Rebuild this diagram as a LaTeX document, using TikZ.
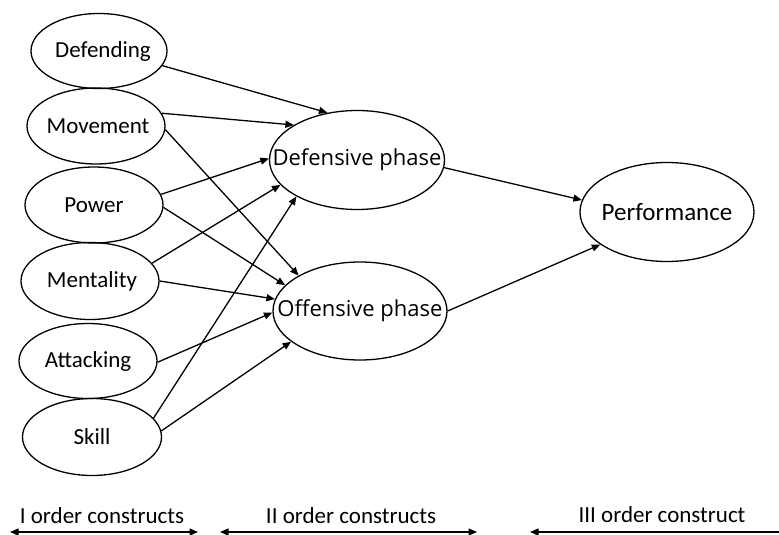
\documentclass[tikz,border=0pt]{standalone}
\usepackage{fontspec}
\setmainfont{Carlito}
\newfontfamily\phasefont{Open Sans}
\usetikzlibrary{shapes.geometric,arrows.meta}
\tikzset{
  ell/.style={draw, ellipse, inner sep=0pt, line width=1.3pt},
  small/.style={ell, minimum width=138pt, minimum height=76pt, font=\fontsize{23}{26}\selectfont},
  big/.style={ell, minimum width=175pt, minimum height=99pt},
  conn/.style={line width=1.3pt, -{Triangle[length=8.5pt,width=7pt]}},
  both/.style={line width=1.3pt, {Triangle[length=8.5pt,width=7pt]}-{Triangle[length=8.5pt,width=7pt]}},
  lbl/.style={anchor=base, inner sep=0pt, font=\fontsize{23}{26}\selectfont}
}
\newcommand{\zw}[1]{\makebox[0pt][c]{#1}}
\begin{document}
\begin{tikzpicture}[x=1pt,y=-1pt]
\useasboundingbox (0,0) rectangle (779,535);
% first order
\node[small, minimum width=136pt, minimum height=75pt] (def) at (99,51) {\zw{\hspace{8pt}Defending}};
\node[small] (mov) at (96,126) {\zw{\hspace{4pt}Movement}};
\node[small, minimum height=76pt] (pow) at (94,205) {\zw{Power}};
\node[small, minimum height=77pt] (mnt) at (90,281) {\zw{\hspace{4pt}Mentality}};
\node[small, minimum height=75pt] (att) at (88,361) {\zw{Attacking}};
\node[small, minimum width=139pt, minimum height=77pt] (skl) at (92,437) {\zw{Skill}};
% second order
\node[big, font=\phasefont\fontsize{22}{26}\selectfont] (dph) at (357,160) {\zw{Defensive phase}};
\node[big, minimum width=174pt, minimum height=98pt, font=\phasefont\fontsize{22}{26}\selectfont] (oph) at (360,311) {\zw{\raisebox{-4pt}{Offensive phase}}};
% third order
\node[big, minimum width=174pt, font=\fontsize{25}{28}\selectfont] (perf) at (667,212) {\zw{Performance}};
% connectors
\draw[conn] (def.-13) -- (dph.122);
\draw[conn] (mov.11) -- (dph.151);
\draw[conn] (mov.-3) -- (oph.150);
\draw[conn] (pow.9) -- (dph.179);
\draw[conn] (pow.-2) -- (oph.161);
\draw[conn] (mnt.16) -- (dph.-162);
\draw[conn] (mnt.0) -- (oph.172);
\draw[conn] (att.-1) -- (oph.-179);
\draw[conn] (skl.17) -- (dph.-149);
\draw[conn] (skl.5) -- (oph.-156);
\draw[conn] (dph.-5) -- (perf.172);
\draw[conn] (oph.0) -- (perf.-154);
% bottom scale
\coordinate (b1l) at (10,532);
\coordinate (b1r) at (198,532);
\coordinate (b2l) at (220,532);
\coordinate (b2r) at (477,532);
\coordinate (b3l) at (530,532);
\coordinate (b3r) at (779,532);
\draw[both] (b1l) -- (b1r);
\draw[both] (b2l) -- (b2r);
\draw[line width=1.3pt, {Triangle[length=8.5pt,width=7pt]}-] (b3l) -- (b3r);
\node[lbl] (t1) at (102,523) {I order constructs};
\node[lbl] (t2) at (351,523) {II order constructs};
\node[lbl] (t3) at (662,522) {III order construct};
\end{tikzpicture}
\end{document}
